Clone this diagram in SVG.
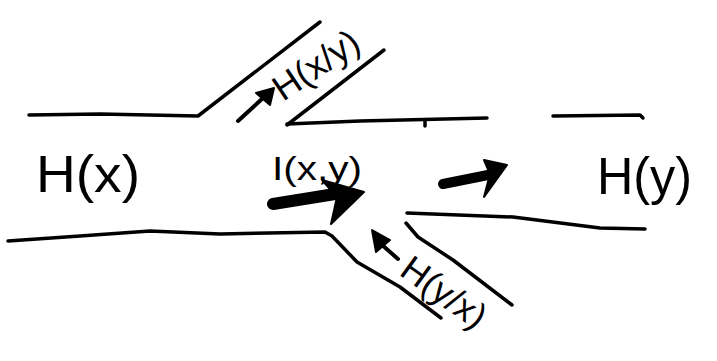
<svg xmlns="http://www.w3.org/2000/svg" width="717" height="361" viewBox="0 0 717 361">
<style>
.ln{fill:none;stroke:#000;stroke-width:3.5;stroke-linecap:round;stroke-linejoin:round}
.ar{fill:#000;stroke:#000;stroke-width:2;stroke-linejoin:round}
.sh{fill:none;stroke:#000;stroke-linecap:round}
.t{font-family:"Liberation Sans","DejaVu Sans",sans-serif;fill:#000}
</style>
<rect width="717" height="361" fill="#fff"/>
<g id="channel">
<path class="ln" d="M29,115 L100,114 L198,116 L320,22"/>
<path class="ln" d="M287,125 L384,50"/>
<path class="ln" d="M287,124 L360,121 L487,118"/>
<path class="ln" d="M425,120 L425,126" stroke-width="2.5"/>
<path class="ln" d="M553,116 L640,115 L643,118"/>
<path class="ln" d="M8,241 L80,236 L150,231 L220,234 L325,232 L332,236 L357,262 L400,287 L441,318"/>
<path class="ln" d="M407,213 L513,217 L600,228 L645,229"/>
<path class="ln" d="M406,223 L418,237 L453,260 L512,305"/>
</g>
<g id="node-hx"><text class="t" x="36" y="192" font-size="52" textLength="104" lengthAdjust="spacingAndGlyphs">H(x)</text></g>
<g id="node-ixy"><text class="t" x="272" y="180" font-size="34" textLength="90" lengthAdjust="spacingAndGlyphs">I(x,y)</text></g>
<g id="node-hy"><text class="t" x="597" y="194" font-size="52" textLength="95" lengthAdjust="spacingAndGlyphs">H(y)</text></g>
<g id="node-hxy"><text class="t" x="0" y="0" font-size="36" transform="translate(283,102) rotate(-34)">H(x/y)</text></g>
<g id="node-hyx"><text class="t" x="0" y="0" font-size="36" transform="translate(398,274) rotate(36)">H(y/x)</text></g>
<g id="connectors">
<path class="sh" d="M273,204 L335,194" stroke-width="12"/>
<polygon class="ar" points="322,180 364,192 331,224 337,197"/>
<path class="sh" d="M443,184 L488,175" stroke-width="10"/>
<polygon class="ar" points="484,160 507,165 484,197 490,174"/>
<path class="sh" d="M238,121 L263,98" stroke-width="4"/>
<polygon class="ar" points="274,88 270,105 256,93"/>
<path class="sh" d="M398,259 L381,244" stroke-width="4"/>
<polygon class="ar" points="372,230 390,240 376,252"/>
</g>
</svg>
